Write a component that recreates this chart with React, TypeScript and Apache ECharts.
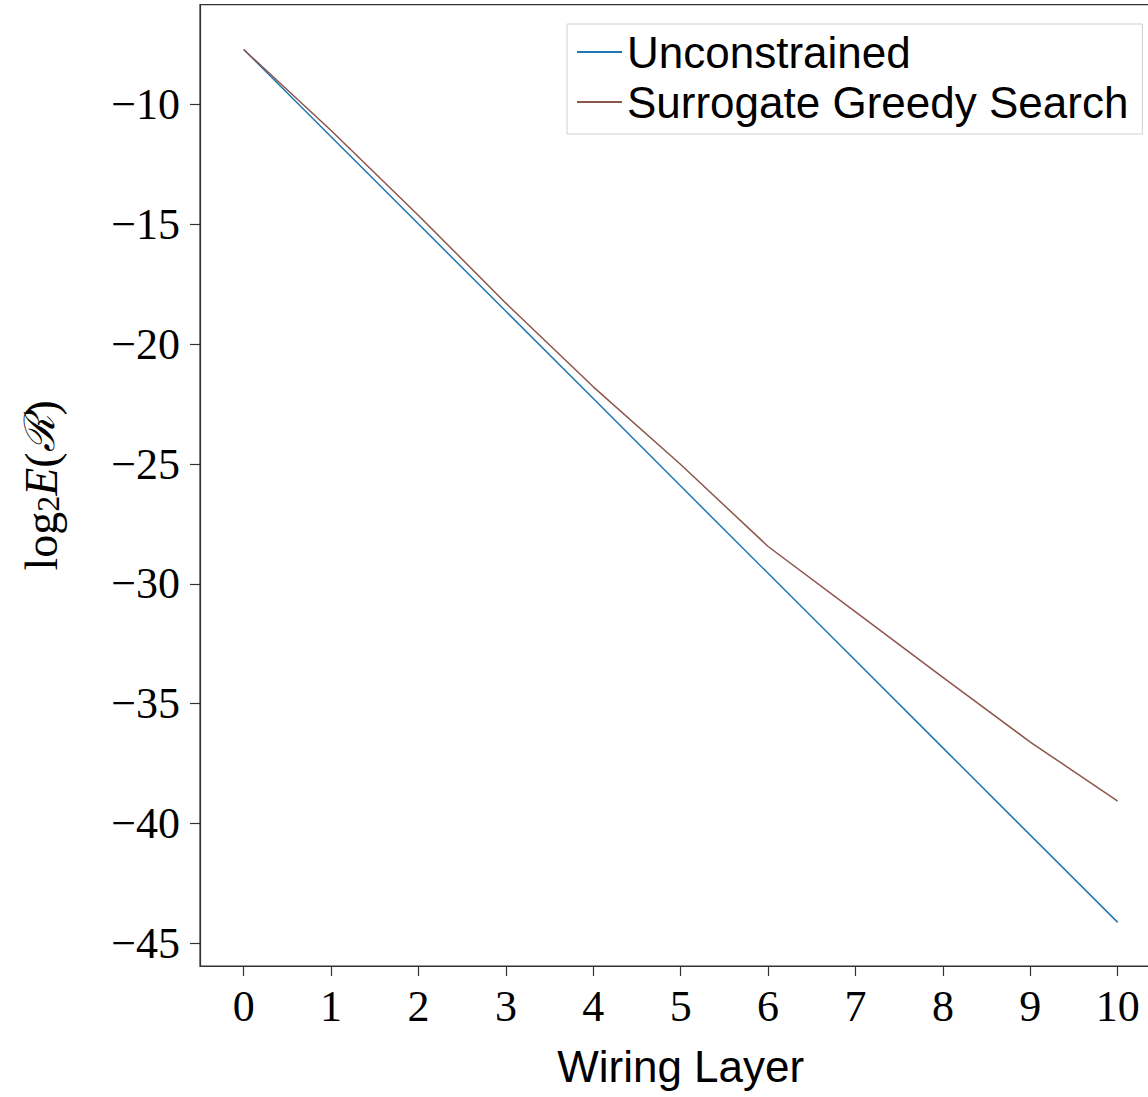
import React, { useEffect, useRef } from "react";
import * as echarts from "echarts";

const layers = [0, 1, 2, 3, 4, 5, 6, 7, 8, 9, 10];
const unconstrained = [-7.71, -11.35, -14.99, -18.63, -22.27, -25.92, -29.56, -33.2, -36.84, -40.48, -44.12];
const surrogateGreedy = [-7.71, -11.09, -14.63, -18.29, -21.78, -25.02, -28.44, -31.17, -33.9, -36.6, -39.06];
const xTicks = [0, 1, 2, 3, 4, 5, 6, 7, 8, 9, 10];
const yTicks = [-45, -40, -35, -30, -25, -20, -15, -10];
const seriesNames = ["Unconstrained", "Surrogate Greedy Search"];
const seriesColors = ["#1f77b4", "#8c564b"];

const SERIF = "'Liberation Serif', 'DejaVu Serif', serif";
const SANS = "'Liberation Sans', Arial, sans-serif";

export default function App() {
  const ref = useRef<HTMLDivElement>(null);
  useEffect(() => {
    if (!ref.current) return;
    const chart = echarts.init(ref.current, null, { renderer: "svg" });
    const axisLineStyle = { color: "#333", width: 1.2 };
    chart.setOption({
      animation: false,
      backgroundColor: "#fff",
      grid: {
        left: 200,
        top: 4.7,
        right: -13.4,
        bottom: 131,
        show: true,
        borderColor: "#333",
        borderWidth: 1.2,
        containLabel: false,
        outerBoundsMode: "none",
      },
      legend: {
        orient: "vertical",
        left: 567,
        top: 24,
        padding: [6, 14, 10, 10],
        borderColor: "#d0d0d0",
        borderWidth: 1,
        borderRadius: 0,
        backgroundColor: "#fff",
        itemWidth: 45,
        itemHeight: 2,
        itemGap: 6,
        icon: "rect",
        textStyle: { fontFamily: SANS, fontSize: 44, color: "#000", lineHeight: 44 },
        data: seriesNames,
      },
      xAxis: {
        type: "value",
        min: -0.5,
        max: 10.5,
        name: "Wiring Layer",
        nameLocation: "middle",
        nameGap: 78,
        nameTextStyle: { fontFamily: SANS, fontSize: 44, color: "#000" },
        axisLine: { show: true, onZero: false, lineStyle: axisLineStyle },
        axisTick: { show: true, length: 10, inside: false, customValues: xTicks, lineStyle: axisLineStyle },
        axisLabel: {
          customValues: xTicks,
          fontFamily: SERIF,
          fontSize: 44,
          color: "#000",
          margin: 18,
          formatter: (v: number) => String(v),
        },
        splitLine: { show: false },
      },
      yAxis: {
        type: "value",
        min: -45.94,
        max: -5.84,
        name: "{a|log}{b|2}{c|E}{a|(}{d|ℛ}{a|)}",
        nameLocation: "middle",
        nameGap: 136,
        nameTextStyle: {
          color: "#000",
          rich: {
            a: { fontFamily: SERIF, fontSize: 46, color: "#000", verticalAlign: "top", lineHeight: 46 },
            b: { fontFamily: SERIF, fontSize: 32, color: "#000", verticalAlign: "bottom", lineHeight: 32, padding: [16, 0, 0, 0] },
            c: { fontFamily: SERIF, fontSize: 46, fontStyle: "italic", color: "#000", verticalAlign: "top", lineHeight: 46 },
            d: { fontFamily: "'DejaVu Serif', serif", fontSize: 42, fontStyle: "italic", color: "#000", verticalAlign: "top", lineHeight: 46 },
          },
        },
        axisLine: { show: true, onZero: false, lineStyle: axisLineStyle },
        axisTick: { show: true, length: 10, inside: false, customValues: yTicks, lineStyle: axisLineStyle },
        axisLabel: {
          customValues: yTicks,
          fontFamily: SERIF,
          fontSize: 44,
          color: "#000",
          margin: 20,
          formatter: (v: number) => (v < 0 ? "\u2212" + Math.abs(v) : String(v)),
        },
        splitLine: { show: false },
      },
      series: [
        {
          name: seriesNames[0],
          type: "line",
          data: layers.map((x, i) => [x, unconstrained[i]]),
          showSymbol: false,
          symbol: "none",
          lineStyle: { color: seriesColors[0], width: 1.5 },
          itemStyle: { color: seriesColors[0] },
        },
        {
          name: seriesNames[1],
          type: "line",
          data: layers.map((x, i) => [x, surrogateGreedy[i]]),
          showSymbol: false,
          symbol: "none",
          lineStyle: { color: seriesColors[1], width: 1.5 },
          itemStyle: { color: seriesColors[1] },
        },
      ],
    });
    return () => chart.dispose();
  }, []);
  return (
    <div
      ref={ref}
      style={{ position: "absolute", left: 0, top: 0, width: 1148, height: 1097, overflow: "hidden" }}
    />
  );
}
